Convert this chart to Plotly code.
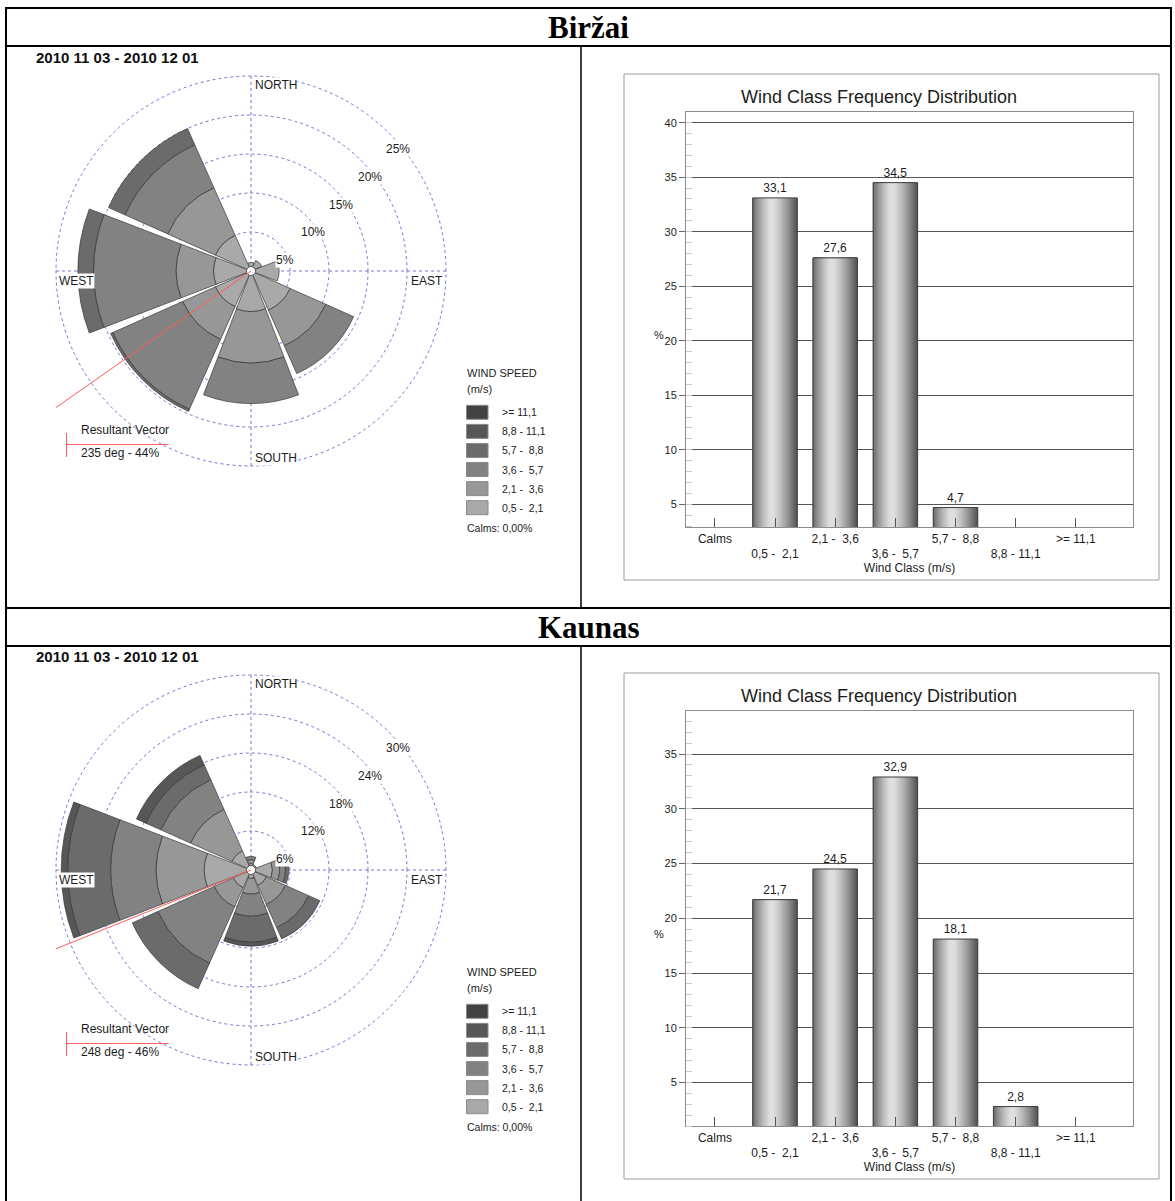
import math
import plotly.graph_objects as go

# ---------------- data ----------------
period = "2010 11 03 - 2010 12 01"
calms_text = "Calms: 0,00%"

# wind directions of the rose petals (deg, clockwise from north): N, NE, E, SE, S, SW, W, NW
directions = [0, 45, 90, 135, 180, 225, 270, 315]
speed_classes = ["0,5 -  2,1", "2,1 -  3,6", "3,6 -  5,7", "5,7 -  8,8", "8,8 - 11,1", ">= 11,1"]

# Biržai - frequency (%) per direction for each wind speed class
birzai_05_21 = [1.1, 1.5, 3.6, 5.5, 5.2, 5.0, 4.8, 5.0]
birzai_21_36 = [0.0, 0.0, 0.0, 5.0, 6.6, 4.6, 4.8, 6.7]
birzai_36_57 = [0.0, 0.0, 0.0, 3.9, 5.2, 9.8, 10.6, 6.0]
birzai_57_88 = [0.0, 0.0, 0.0, 0.0, 0.0, 0.3, 2.0, 2.3]
birzai_88_111 = [0.0, 0.0, 0.0, 0.0, 0.0, 0.0, 0.0, 0.0]
birzai_111 = [0.0, 0.0, 0.0, 0.0, 0.0, 0.0, 0.0, 0.0]

# Kaunas - frequency (%) per direction for each wind speed class
kaunas_05_21 = [1.0, 0.9, 3.3, 2.6, 1.3, 3.0, 7.2, 3.2]
kaunas_21_36 = [0.6, 0.0, 1.1, 3.2, 2.4, 3.2, 7.4, 7.0]
kaunas_36_57 = [0.5, 0.0, 0.9, 3.9, 3.4, 9.5, 7.0, 5.0]
kaunas_57_88 = [0.0, 0.0, 0.5, 1.9, 4.0, 4.3, 6.6, 2.5]
kaunas_88_111 = [0.0, 0.0, 0.0, 0.0, 0.6, 0.0, 1.0, 1.6]
kaunas_111 = [0.0, 0.0, 0.0, 0.0, 0.0, 0.0, 0.0, 0.0]

birzai_rings = [5, 10, 15, 20, 25]
kaunas_rings = [6, 12, 18, 24, 30]

birzai_vector_deg = 235
birzai_vector_pct = 44
kaunas_vector_deg = 248
kaunas_vector_pct = 46

# wind class frequency distribution (%)
wind_classes = ["Calms", "0,5 -  2,1", "2,1 -  3,6", "3,6 -  5,7", "5,7 -  8,8", "8,8 - 11,1", ">= 11,1"]
birzai_class_freq = [0, 33.1, 27.6, 34.5, 4.7, 0, 0]
kaunas_class_freq = [0, 21.7, 24.5, 32.9, 18.1, 2.8, 0]

# ---------------- styling ----------------
FIG_W, FIG_H = 1175, 1201
ARIAL = "Liberation Sans, Arial, sans-serif"
TIMES = "Liberation Serif, Times New Roman, serif"
INK = "#1c1c1c"
GRID = "#7474d6"
SPEED_COLORS = ["#a9a9a9", "#979797", "#828282", "#6b6b6b", "#575757", "#424242"]

ROSE_R = 195          # pixel radius of the outermost ring
RING_PAD = 1.015      # radial range slightly past the last ring so its circle is drawn

BAR_W = 0.74          # bar width in category units
HIGHLIGHT = 0.42      # where the cylinder shading peaks, across the bar
EDGE_LEFT, EDGE_RIGHT, PEAK = 0x6e, 0x52, 0xe6
GAMMA = 1.35
N_SHADES = 22
X_RANGE = [-0.48, 6.95]


def fx(x):
    return x / FIG_W


def fy(y):
    return 1 - y / FIG_H


fig = go.Figure()
shapes = []
annotations = []
layout_axes = {}


def label(s, x, y, size, xanchor="left", family=ARIAL, color=INK, bg=None):
    a = dict(text=s, x=fx(x), y=fy(y), xref="paper", yref="paper",
             xanchor=xanchor, yanchor="middle", showarrow=False, borderpad=0,
             font=dict(family=family, size=size, color=color))
    if bg:
        a["bgcolor"] = bg
    annotations.append(a)


def seg(x0, y0, x1, y1, color="black", width=2):
    shapes.append(dict(type="line", xref="paper", yref="paper", x0=fx(x0), y0=fy(y0),
                       x1=fx(x1), y1=fy(y1), line=dict(color=color, width=width)))


def box(x0, y0, x1, y1, line_color, width=1):
    shapes.append(dict(type="rect", xref="paper", yref="paper", x0=fx(x0), y0=fy(y0),
                       x1=fx(x1), y1=fy(y1), line=dict(color=line_color, width=width),
                       fillcolor="rgba(0,0,0,0)", layer="below"))


stations = [
    dict(name="Biržai", dy=0, head=8, polar="polar", xaxis="x", yaxis="y",
         rose=[birzai_05_21, birzai_21_36, birzai_36_57, birzai_57_88, birzai_88_111, birzai_111],
         rings=birzai_rings, vdeg=birzai_vector_deg, vpct=birzai_vector_pct,
         freq=birzai_class_freq, yrange=[2.89, 40.95]),
    dict(name="Kaunas", dy=599, head=608, polar="polar2", xaxis="x2", yaxis="y2",
         rose=[kaunas_05_21, kaunas_21_36, kaunas_36_57, kaunas_57_88, kaunas_88_111, kaunas_111],
         rings=kaunas_rings, vdeg=kaunas_vector_deg, vpct=kaunas_vector_pct,
         freq=kaunas_class_freq, yrange=[1.0, 38.9]),
]

# ---------------- table frame ----------------
seg(6, 8, 1171, 8)
seg(6, 7, 6, 1201)
seg(1171, 7, 1171, 1201)
for yy in (46, 608, 646):
    seg(6, yy, 1171, yy)
seg(581, 46, 581, 608, width=1.5)
seg(581, 646, 581, 1201, width=1.5)

for st in stations:
    dy = st["dy"]
    label(f"<b>{st['name']}</b>", 588.5, st["head"] + 19.5, 31, xanchor="center", family=TIMES, color="black")
    label(f"<b>{period}</b>", 35, 57 + dy, 15, color="#111")

    # ---------- wind rose ----------
    cx, cy = 251, 271 + dy
    Rd = ROSE_R * RING_PAD
    pk = st["polar"]
    for cls, vals, col in zip(speed_classes, st["rose"], SPEED_COLORS):
        fig.add_trace(go.Barpolar(
            r=vals, theta=directions, width=42, name=cls, subplot=pk,
            marker=dict(color=col, line=dict(color="#3a3a3a", width=0.7)),
            hoverinfo="skip"))
    fig.add_trace(go.Scatterpolar(
        r=[0], theta=[0], mode="markers", subplot=pk, cliponaxis=False,
        marker=dict(size=9, color="white", line=dict(color="#5a5a5a", width=1)),
        hoverinfo="skip"))
    rings = st["rings"]
    layout_axes[pk] = dict(
        domain=dict(x=[fx(cx - Rd), fx(cx + Rd)], y=[fy(cy + Rd), fy(cy - Rd)]),
        bgcolor="white", barmode="stack",
        radialaxis=dict(range=[0, rings[-1] * RING_PAD], tickvals=rings, showticklabels=False,
                        ticks="", showline=False, gridcolor=GRID, griddash="dot", gridwidth=1),
        angularaxis=dict(rotation=90, direction="clockwise", tickvals=[0, 90, 180, 270],
                         showticklabels=False, ticks="", showline=False,
                         gridcolor=GRID, griddash="dot", gridwidth=1),
    )

    # ring labels along the north-east diagonal
    for k, v in enumerate(rings):
        label(f"{v}%", cx + 34 + 28.2 * k, cy - 11 - 27.7 * k, 12, xanchor="center", bg="white")

    label("NORTH", 254, cy - 186, 12, bg="white")
    label("EAST", 444, cy + 10, 12, xanchor="right", bg="white")
    label("WEST", 58, cy + 10, 12, bg="white")
    label("SOUTH", 254, cy + 187, 12, bg="white")

    # resultant vector, drawn out to the left edge of the rose
    a = math.radians(st["vdeg"])
    ux, uy = math.sin(a), -math.cos(a)
    t = ROSE_R / abs(ux)
    seg(cx, cy, cx + ux * t, cy + uy * t, color="#ff5c5c", width=1)

    # resultant vector key
    seg(66.5, 433 + dy, 66.5, 457 + dy, color="#ff5c5c", width=1)
    seg(66.5, 444.5 + dy, 168.5, 444.5 + dy, color="#ff5c5c", width=1)
    label("Resultant Vector", 80, 430 + dy, 12)
    label(f"{st['vdeg']} deg - {st['vpct']}%", 80, 453 + dy, 12)

    # wind speed key
    label("WIND SPEED", 466.5, 373 + dy, 11)
    label("(m/s)", 466.5, 388.5 + dy, 11)
    for i, (cls, col) in enumerate(zip(speed_classes[::-1], SPEED_COLORS[::-1])):
        yc = 412.3 + 19.08 * i + dy
        shapes.append(dict(type="rect", xref="paper", yref="paper", x0=fx(466.5), x1=fx(488),
                           y0=fy(yc + 7), y1=fy(yc - 7), fillcolor=col,
                           line=dict(color="#8a8a8a", width=1)))
        label(cls, 501, yc, 10.5)
    label(calms_text, 466.5, 528.3 + dy, 10.5)

    # ---------- wind class frequency distribution ----------
    box(624, 74 + dy, 1159, 580 + dy, "#9c9c9c")
    label("Wind Class Frequency Distribution", 878.5, 97 + dy, 18, xanchor="center")
    label("%", 653, 335 + dy, 11)

    xa, ya = st["xaxis"], st["yaxis"]
    freq = st["freq"]
    for k in range(N_SHADES):
        light = EDGE_RIGHT + (PEAK - EDGE_RIGHT) * k / N_SHADES
        dl = min(1.0, ((PEAK - light) / (PEAK - EDGE_LEFT)) ** (1 / GAMMA))
        dr = ((PEAK - light) / (PEAK - EDGE_RIGHT)) ** (1 / GAMMA)
        u0 = HIGHLIGHT * (1 - dl)
        u1 = HIGHLIGHT + (1 - HIGHLIGHT) * dr
        g = int(round(light))
        fig.add_trace(go.Bar(
            x=wind_classes, y=freq, xaxis=xa, yaxis=ya,
            width=BAR_W * (u1 - u0), offset=-BAR_W / 2 + BAR_W * u0,
            marker=dict(color=f"rgb({g},{g},{g})", line=dict(width=0)),
            hoverinfo="skip"))
    value_text = [f"{v:.1f}".replace(".", ",") if v > 0 else "" for v in freq]
    fig.add_trace(go.Bar(
        x=wind_classes, y=freq, xaxis=xa, yaxis=ya, width=BAR_W, offset=-BAR_W / 2,
        marker=dict(color="rgba(0,0,0,0)", line=dict(color="#3d3d3d", width=1)),
        text=value_text, textposition="outside",
        textfont=dict(family=ARIAL, size=12, color=INK), hoverinfo="skip"))

    tick_text = [c if i % 2 == 0 else "\u00a0<br>" + c for i, c in enumerate(wind_classes)]
    x_key = "xaxis" if xa == "x" else "xaxis" + xa[1:]
    y_key = "yaxis" if ya == "y" else "yaxis" + ya[1:]
    layout_axes[x_key] = dict(
        domain=[fx(686), fx(1133)], anchor=ya, type="category", range=X_RANGE,
        tickmode="array", tickvals=wind_classes, ticktext=tick_text,
        ticks="inside", ticklen=9, tickcolor="#555", showline=True, mirror=True,
        linecolor="#8c8c8c", showgrid=False, zeroline=False, fixedrange=True,
        tickfont=dict(family=ARIAL, size=12, color=INK),
        title=dict(text="Wind Class (m/s)", font=dict(family=ARIAL, size=12, color=INK), standoff=2),
    )
    layout_axes[y_key] = dict(
        domain=[fy(527.3 + dy), fy(112.3 + dy)], anchor=xa, range=st["yrange"],
        tickmode="linear", tick0=5, dtick=5, ticks="outside", ticklen=6, tickcolor="#666",
        showgrid=True, gridcolor="#555555", gridwidth=1, zeroline=False,
        showline=True, mirror=True, linecolor="#8c8c8c", fixedrange=True,
        tickfont=dict(family=ARIAL, size=11, color=INK),
        minor=dict(dtick=1, tick0=0, ticks="inside", ticklen=6, tickcolor="#c8c8c8", showgrid=False),
    )

fig.update_layout(
    width=FIG_W, height=FIG_H, margin=dict(l=0, r=0, t=0, b=0),
    paper_bgcolor="white", plot_bgcolor="white", showlegend=False,
    barmode="overlay", shapes=shapes, annotations=annotations,
    font=dict(family=ARIAL, color=INK),
    **layout_axes,
)

fig.write_html("out.html")
